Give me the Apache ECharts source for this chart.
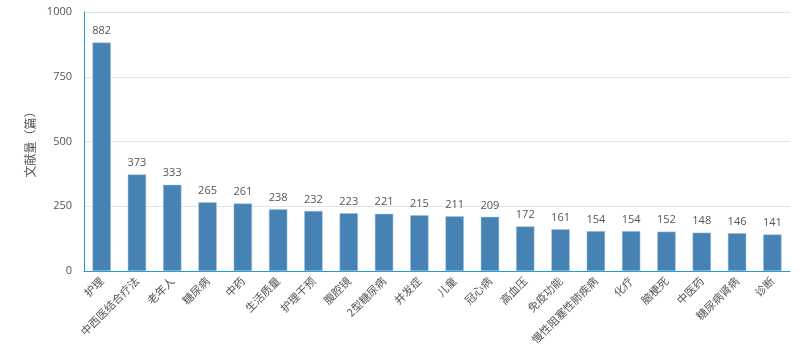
<!DOCTYPE html>
<html><head><meta charset="utf-8">
<script src="https://cdn.jsdelivr.net/npm/echarts@6/dist/echarts.min.js"></script>
<style>html,body{margin:0;padding:0;background:#fff}#c{width:804px;height:357px}</style>
</head><body><div id="c"></div>
<script>
const categories = ['护理','中西医结合疗法','老年人','糖尿病','中药','生活质量','护理干预','腹腔镜','2型糖尿病','并发症','儿童','冠心病','高血压','免疫功能','慢性阻塞性肺疾病','化疗','脑梗死','中医药','糖尿病肾病','诊断'];
const values = [882,373,333,265,261,238,232,223,221,215,211,209,172,161,154,154,152,148,146,141];
const yTicks = [0,250,500,750,1000];
const chart = echarts.init(document.getElementById('c'));
chart.setOption({
  animation:false,
  grid:{left:84,right:14,top:12,bottom:86},
  xAxis:{type:'category',data:categories,
    axisLine:{lineStyle:{color:'#1e9bd7'}},
    axisTick:{lineStyle:{color:'#ccd6e0'}},
    axisLabel:{rotate:45,interval:0,color:'#555',fontSize:11,fontFamily:'Noto Sans CJK SC',margin:8}},
  yAxis:{type:'value',min:0,max:1000,interval:250,name:'文献量（篇）',nameLocation:'middle',nameGap:45,
    nameTextStyle:{color:'#555',fontSize:12,fontFamily:'Noto Sans CJK SC'},
    axisLine:{show:true,lineStyle:{color:'#1e9bd7'}},
    axisTick:{show:false},
    axisLabel:{color:'#555',fontSize:11,margin:12,fontFamily:'Open Sans',formatter:v=>yTicks.includes(v)?String(v):''},
    splitLine:{lineStyle:{color:'#e4e4e4'}}},
  series:[{type:'bar',data:values,barWidth:'52%',
    itemStyle:{color:'#4682b4',borderColor:'#a9c4dc',borderWidth:0.5},
    label:{show:true,position:'top',color:'#555',fontSize:11,fontFamily:'Open Sans',distance:6}}]
});
</script></body></html>
